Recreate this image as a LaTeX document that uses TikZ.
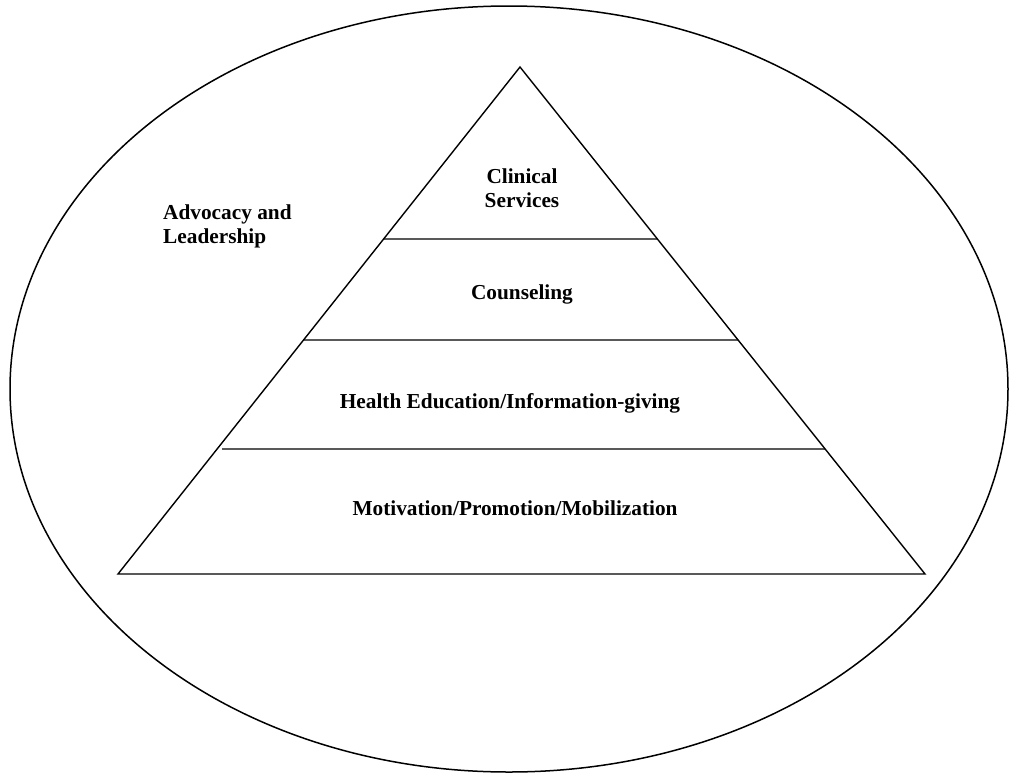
\documentclass[tikz,border=0pt]{standalone}
\usepackage{fontspec}
\setmainfont{Liberation Serif}
\usetikzlibrary{positioning}
\tikzset{>=latex}

\begin{document}
\begin{tikzpicture}[x=1pt, y=-1pt,
			label/.style={font=\bfseries\fontsize{21.3}{24}\selectfont, align=center, inner sep=0pt},
			edge/.style={line width=1.4pt}]
		\useasboundingbox (0,0) rectangle (1010,774);
		\coordinate (apex) at (520,67);
		\coordinate (bl) at (118,574);
		\coordinate (br) at (925,574);
		\coordinate (l1) at (intersection of apex--bl and 0,239 -- 1010,239);
		\coordinate (r1) at (intersection of apex--br and 0,239 -- 1010,239);
		\coordinate (l2) at (intersection of apex--bl and 0,340 -- 1010,340);
		\coordinate (r2) at (intersection of apex--br and 0,340 -- 1010,340);
		\coordinate (l3) at (222,449);
		\coordinate (r3) at (intersection of apex--br and 0,449 -- 1010,449);

		% the outer ellipse
		\draw[line width=1.5pt] (509,389) ellipse [x radius=499, y radius=383];

		% the pyramid
		\draw[edge] (apex) -- (bl) -- (br) -- cycle;
		\draw[edge] (l1) -- (r1)  (l2) -- (r2)  (l3) -- (r3);

		% the levels
		\node[label] (clinical) at (522,188) {Clinical\\Services};
		\node[label] (counseling) at (522,294) {Counseling};
		\node[label] (healthed) at (510,403) {Health Education/Information-giving};
		\node[label] (motivation) at (515,508) {Motivation/Promotion/Mobilization};

		% outside the pyramid
		\node[label, align=left, anchor=north west] (advocacy) at (163,205) {Advocacy and\\Leadership};
	\end{tikzpicture}
\end{document}
